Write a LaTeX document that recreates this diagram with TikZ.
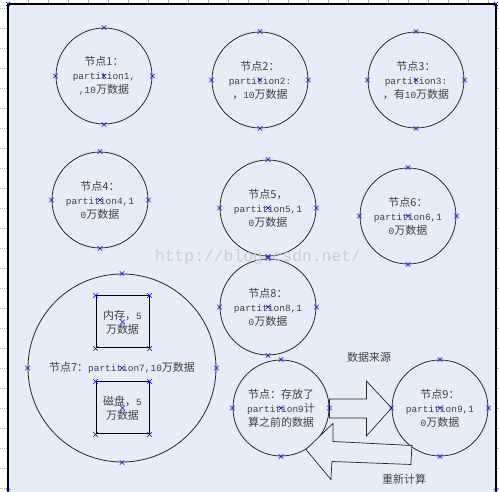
\documentclass[tikz,border=0pt]{standalone}
\usepackage{fontspec}
\setmainfont{Liberation Mono}[Scale=0.86]
\newfontfamily\cjk{Noto Sans CJK SC}
\usetikzlibrary{shapes.misc,calc}
\definecolor{pagebg}{RGB}{231,237,248}
\definecolor{markblue}{RGB}{0,0,235}
\definecolor{wmgray}{RGB}{203,205,208}

\begin{document}
\begin{tikzpicture}[x=1pt,y=-1pt,
    % 分区节点（圆）
    part/.style={circle, draw=black!85, line width=0.8pt, minimum size=96pt,
        inner sep=0pt, align=center, text=black!75,
        font=\fontsize{11}{14}\selectfont},
    % 节点7内部的存储块
    store/.style={rectangle, draw=black, line width=1pt, minimum width=53pt,
        minimum height=52pt, inner sep=0pt, align=center, text=black!75,
        font=\fontsize{11}{14}\selectfont},
    % 选中点的蓝色小叉
    xmark/.style={cross out, draw=markblue, line width=0.5pt, minimum size=4pt, inner sep=0pt},
    blockarrow/.style={draw=black!85, line width=0.7pt, fill=pagebg, line join=miter},
    lbl/.style={text=black!75, font=\cjk\fontsize{11}{14}\selectfont}
]
    \useasboundingbox (0,0) rectangle (499,492);

    % 页面背景和标尺
    \fill[pagebg] (8,4) rectangle (496,492);
    \foreach \t in {28,48,...,488}
        \draw[gray!60, line width=0.6pt] (\t,0) -- (\t,3);
    \foreach \t in {8,28,...,488} {
        \draw[gray!60, line width=0.6pt, dash pattern=on 1pt off 1pt] (0,\t) -- (7,\t);
        \draw[gray!60, line width=0.6pt] (497,\t) -- (499,\t);
    }
    \draw[black, line width=1.2pt] (8,492) -- (8,4) -- (496,4) -- (496,492);

    % 各分区节点
    \node[part] (n1) at (104,76)  {{\cjk 节点1：}\\partition1,\\,10{\cjk 万数据}};
    \node[part] (n2) at (260,80)  {{\cjk 节点2：}\\partition2:\\{\cjk ，}10{\cjk 万数据}};
    \node[part] (n3) at (416,80)  {{\cjk 节点3：}\\partition3:\\{\cjk ，有}10{\cjk 万数据}};
    \node[part] (n4) at (100,200) {{\cjk 节点4：}\\partition4,1\\0{\cjk 万数据}};
    \node[part] (n5) at (268,208) {{\cjk 节点5，}\\partition5,1\\0{\cjk 万数据}};
    \node[part] (n6) at (408,216) {{\cjk 节点6：}\\partition6,1\\0{\cjk 万数据}};
    \node[part] (n8) at (268,307) {{\cjk 节点8：}\\partition8,1\\0{\cjk 万数据}};
    \node[part] (nold) at (281,408) {{\cjk 节点：存放了}\\partition9{\cjk 计}\\{\cjk 算之前的数据}};
    \node[part] (n9) at (440,408) {{\cjk 节点9：}\\partition9,1\\0{\cjk 万数据}};

    % 节点7：内存 + 磁盘
    \node[part, minimum size=188pt] (n7) at (122,368) {{\cjk 节点7：}partition7,10{\cjk 万数据}};
    \node[store] (mem)  at (122.5,322) {{\cjk 内存，}5\\{\cjk 万数据}};
    \node[store] (disk) at (122.5,408) {{\cjk 磁盘，}5\\{\cjk 万数据}};

    % 数据来源（向右）
    \begin{scope}[shift={(nold.east)}]
        \draw[blockarrow] (0,-9) -- (37,-9) -- (37,-27) -- ($(n9.west)-(nold.east)$)
            -- (37,28) -- (37,10) -- (0,10) -- cycle;
    \end{scope}
    % 重新计算（向左）
    \begin{scope}[shift={(nold.-59)}]
        \draw[blockarrow] (0,0) -- (27,-26) -- (27,-8) -- (106,-4) -- (105,15)
            -- (26,12) -- (25,30) -- cycle;
    \end{scope}
    \node[lbl] (src) at (369,357) {数据来源};
    \node[lbl] (redo) at (404,479) {重新计算};

    % 选中点
    \foreach \n in {n1,n2,n3,n4,n5,n6,n7,n8,nold,n9}
        \foreach \a in {north,south,east,west,center}
            \node[xmark] at (\n.\a) {};
    \foreach \n in {mem,disk}
        \foreach \a in {north west,north east,south west,south east,center}
            \node[xmark] at (\n.\a) {};
    \foreach \p in {(8,4),(496,4),(8,491),(496,491)}
        \node[xmark] at \p {};

    % 水印
    \node[text=wmgray, font=\fontsize{19}{19}\selectfont] (wm) at (258,257) {http://blog.csdn.net/};
\end{tikzpicture}
\end{document}
